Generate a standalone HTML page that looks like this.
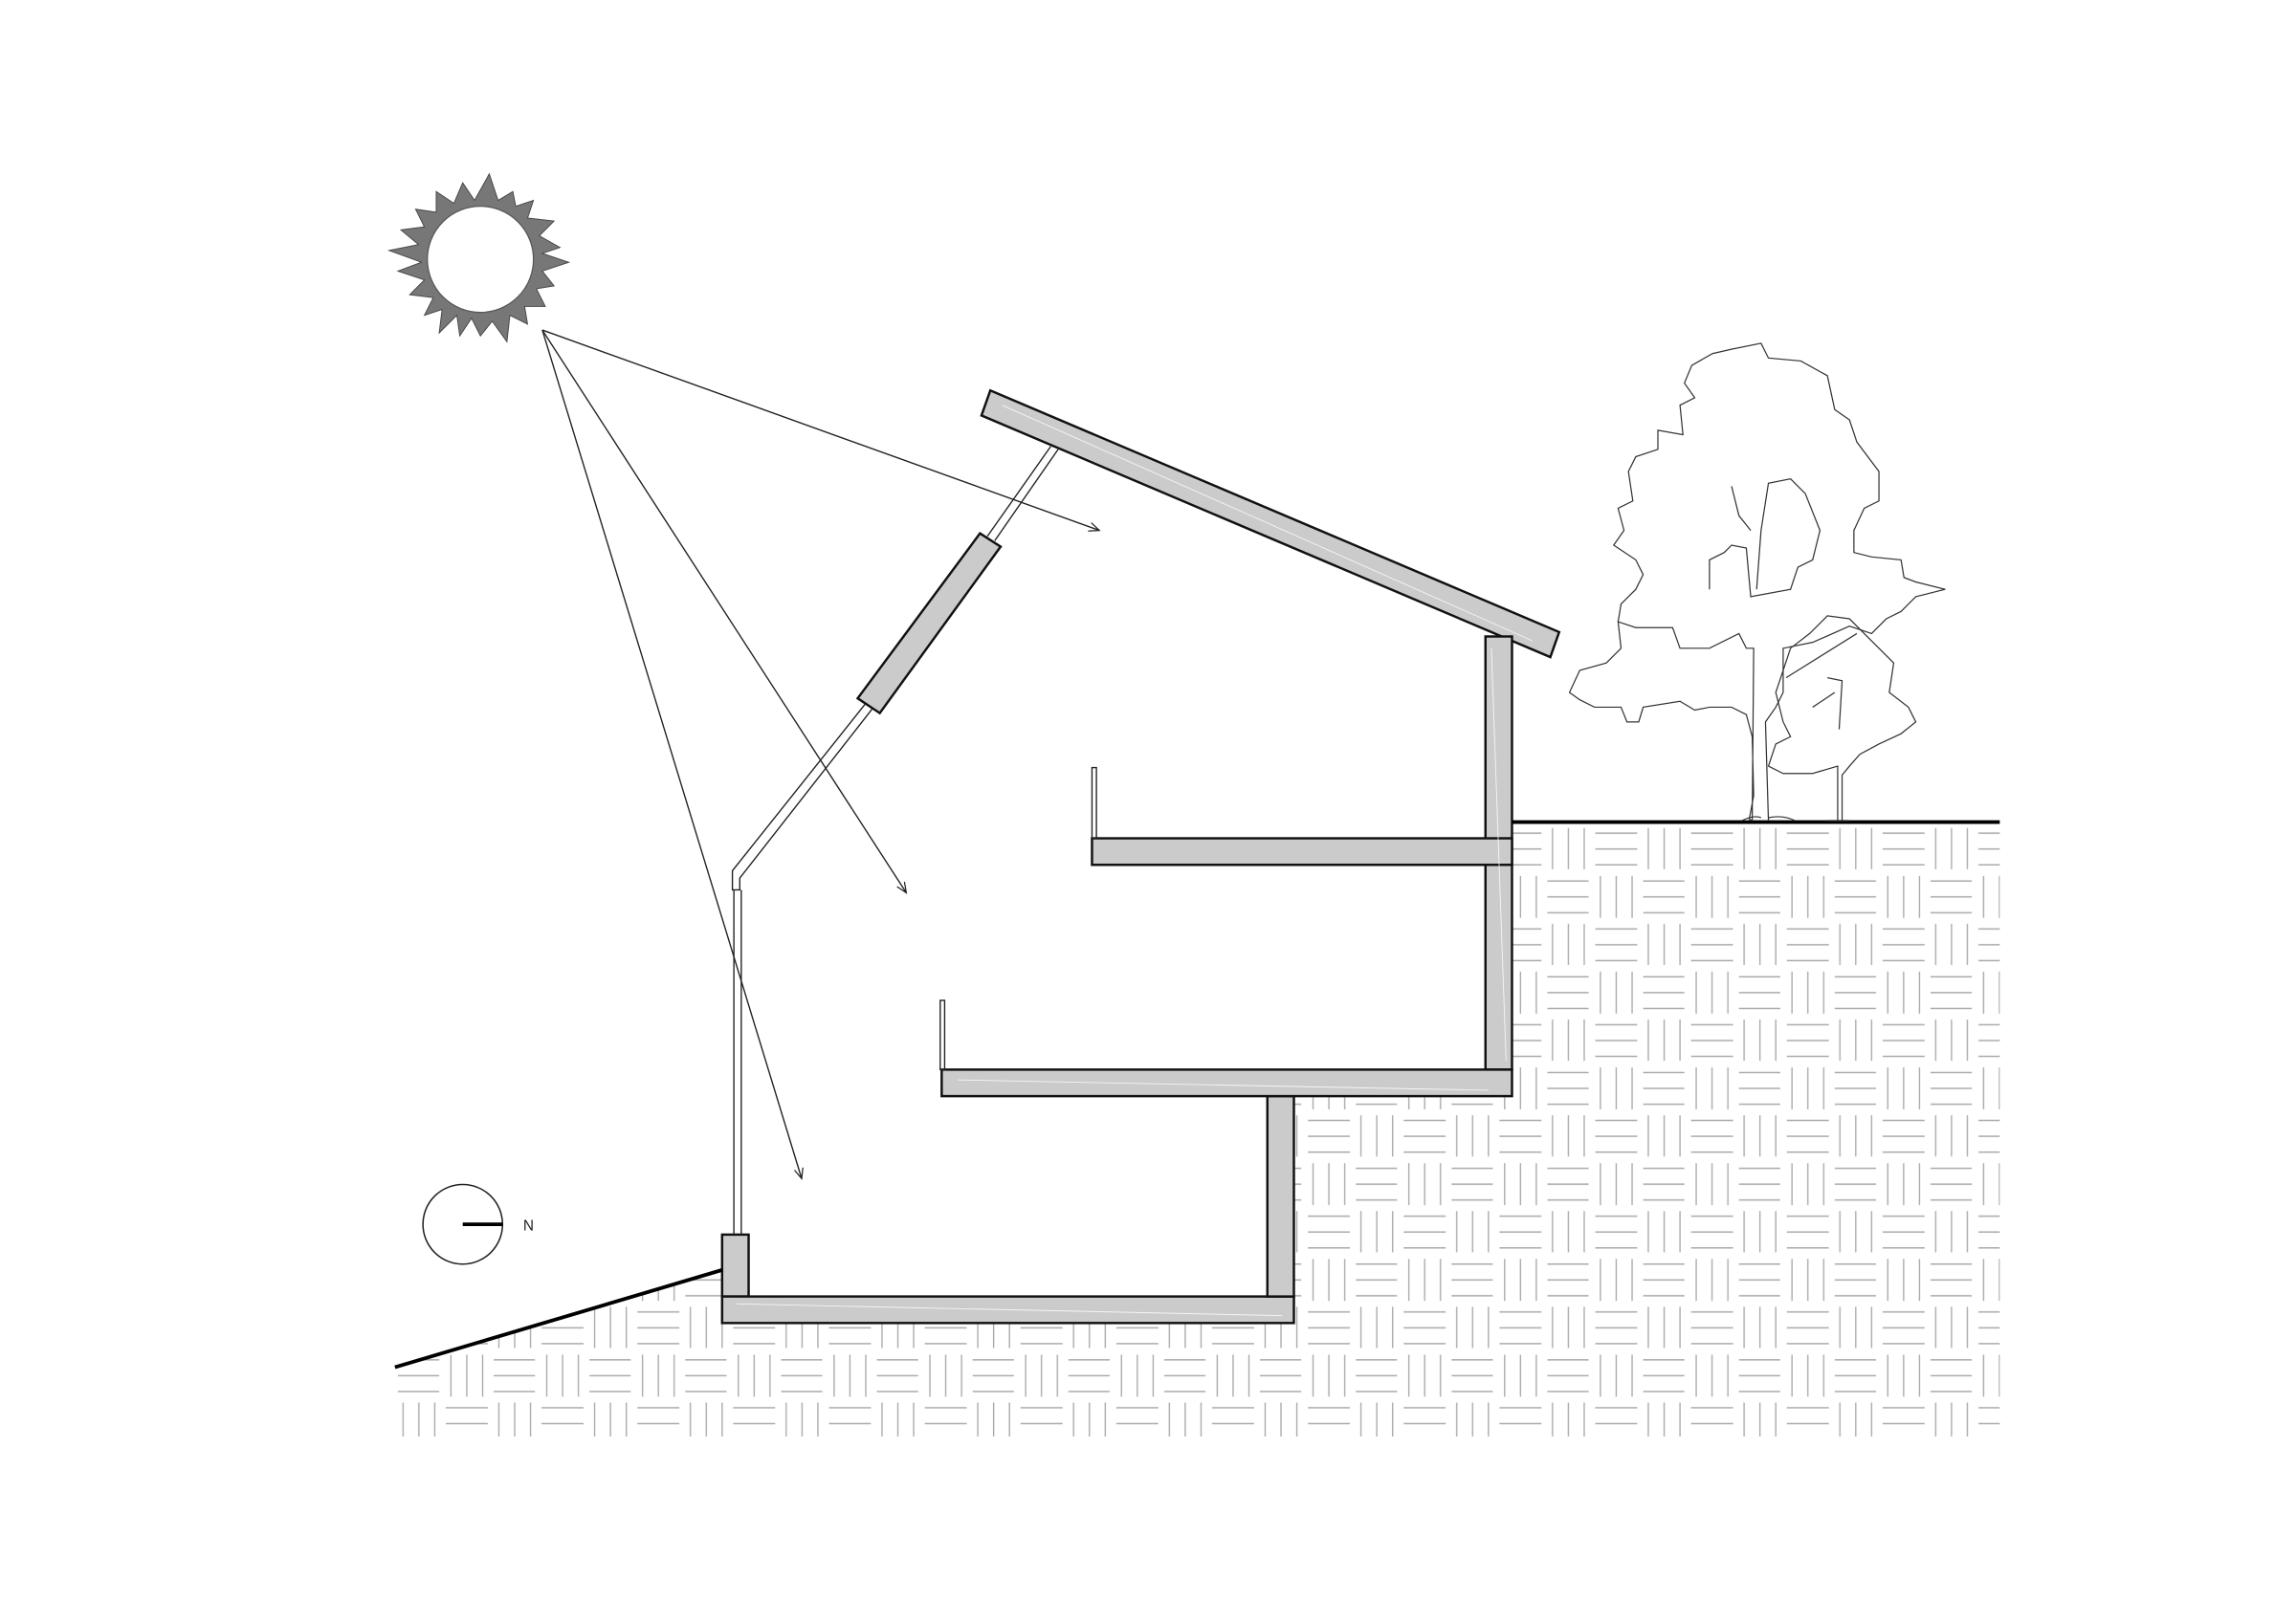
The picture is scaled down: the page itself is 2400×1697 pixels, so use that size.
<!DOCTYPE html>
<html><head><meta charset="utf-8"><style>html,body{margin:0;padding:0;background:#fff}svg{display:block}</style></head>
<body>
<svg width="2400" height="1697" viewBox="0 0 1558 1101.6" xmlns="http://www.w3.org/2000/svg">
<defs>
<pattern id="bw" patternUnits="userSpaceOnUse" x="268" y="560" width="65" height="65">
<g stroke="#aaa" stroke-width="0.9" fill="none">
<line x1="5.5" y1="2" x2="5.5" y2="30"/><line x1="16.25" y1="2" x2="16.25" y2="30"/><line x1="27" y1="2" x2="27" y2="30"/>
<line x1="34.5" y1="5.5" x2="63" y2="5.5"/><line x1="34.5" y1="16.25" x2="63" y2="16.25"/><line x1="34.5" y1="27" x2="63" y2="27"/>
<line x1="2" y1="38" x2="30" y2="38"/><line x1="2" y1="48.75" x2="30" y2="48.75"/><line x1="2" y1="59.5" x2="30" y2="59.5"/>
<line x1="38" y1="34.5" x2="38" y2="63"/><line x1="48.75" y1="34.5" x2="48.75" y2="63"/><line x1="59.5" y1="34.5" x2="59.5" y2="63"/>
</g></pattern>
<marker id="ar" markerWidth="8" markerHeight="8" refX="7" refY="4" orient="auto" markerUnits="userSpaceOnUse"><path d="M0,1 L7,4 L0,7" fill="none" stroke="#222" stroke-width="0.8"/></marker>
</defs>
<rect width="1558" height="1102" fill="#fff"/>
<polygon points="268,928 490,862 490,898 878,898 878,744 1026,744 1026,558 1357,558 1357,975 268,975" fill="url(#bw)"/>
<!-- sun -->
<g transform="translate(326,176)">
<polygon fill="#777" stroke="#444" stroke-width="0.6" points="
6,-58 12,-40 22,-46 24,-36 36,-40 32,-28 50,-26 40,-16 54,-8 42,-4 60,2 42,8 50,18 38,20 44,32 30,32 32,44 20,38 18,56 8,42 0,52 -6,40 -14,52 -16,38 -28,50 -26,34 -38,38 -32,26 -48,24 -38,14 -56,8 -40,2 -62,-6 -42,-10 -54,-20 -38,-22 -44,-34 -30,-32 -30,-46 -18,-38 -12,-52 -4,-40"/>
<circle r="36" fill="#fff" stroke="#555" stroke-width="0.8"/>
</g>
<!-- rays -->
<g stroke="#222" stroke-width="0.9" fill="none" marker-end="url(#ar)">
<line x1="368" y1="224" x2="746" y2="360"/>
<line x1="368" y1="224" x2="615" y2="606"/>
<line x1="368" y1="224" x2="544" y2="800"/>
</g>
<!-- building -->
<g fill="#cbcbcb" stroke="#111" stroke-width="1.6">
<polygon points="672,265 1058,429 1052,446 666,282"/>
<polygon points="665,362 679,371 597,484 582,474"/>
<rect x="490" y="838" width="18" height="42"/>
<rect x="490" y="880" width="388" height="18"/>
<rect x="860" y="744" width="18" height="136"/>
<rect x="1008" y="432" width="18" height="294"/>
<rect x="639" y="726" width="387" height="18"/>
<rect x="741" y="569" width="285" height="18"/>
</g>
<g stroke="#fff" stroke-width="0.6" fill="none" opacity="0.8">
<line x1="680" y1="275" x2="1040" y2="435"/><line x1="1012" y1="440" x2="1022" y2="720"/><line x1="650" y1="733" x2="1010" y2="740"/><line x1="500" y1="885" x2="870" y2="893"/>
</g>
<!-- glazing -->
<g stroke="#222" stroke-width="0.9" fill="none">
<path d="M713,303 L670,364 M718,305 L675,367"/>
<path d="M587,478 L497,591 L497,604 L502,604 L502,596 L592,481"/>
<line x1="498" y1="604" x2="498" y2="838"/><line x1="503" y1="604" x2="503" y2="838"/>
<rect x="741" y="521" width="3" height="48"/>
<rect x="638" y="679" width="3" height="47"/>
</g>
<!-- ground lines -->
<line x1="268" y1="928" x2="490" y2="862" stroke="#000" stroke-width="2.5"/>
<line x1="1026" y1="558" x2="1357" y2="558" stroke="#000" stroke-width="2.5"/>
<!-- tree -->
<g stroke="#333" stroke-width="0.8" fill="none">
<path d="M1189,557 L1190,440 L1185,440 L1180,430 L1160,440 L1140,440 L1135,426 L1110,426 L1098,422 L1100,440 L1090,450 L1072,455 L1065,470 L1072,475 L1082,480 L1100,480 L1104,490 L1112,490 L1115,480 L1140,476 L1150,482 L1160,480 L1175,480 L1185,485 L1189,500 L1190,540 L1187,556 Z"/>
<path d="M1200,557 L1198,490 L1205,480 L1210,470 L1210,440 L1230,436 L1255,425 L1270,430 L1280,420 L1290,415 L1300,405 L1320,400 L1300,395 L1292,392 L1290,380 L1270,378 L1258,375 L1258,360 L1265,345 L1275,340 L1275,320 L1260,300 L1255,285 L1245,278 L1240,255 L1222,245 L1200,243 L1195,233 L1175,237 L1162,240 L1148,248 L1143,260 L1150,270 L1140,275 L1142,295 L1125,292 L1125,305 L1110,310 L1105,320 L1108,340 L1098,345 L1102,360 L1095,370 L1110,380 L1115,390 L1110,400 L1100,410 L1098,422"/>
<path d="M1160,400 L1160,380 L1170,375 L1175,370 L1185,372 L1188,405 L1215,400 L1220,385 L1230,380 L1235,360 L1225,335 L1215,325 L1200,328 L1195,360 L1192,400"/>
<path d="M1175,330 L1180,350 L1188,360"/>
<path d="M1247,557 L1247,520 L1230,525 L1210,525 L1200,520 L1205,505 L1215,500 L1210,490 L1205,470 L1210,455 L1215,440 L1228,430 L1240,418 L1255,420 L1265,430 L1275,440 L1285,450 L1282,470 L1295,480 L1300,490 L1290,498 L1275,505 L1262,512 L1255,520 L1250,526 L1250,557"/>
<path d="M1212,460 L1260,430 M1240,460 L1250,462 L1248,495 M1230,480 L1245,470"/>
<path d="M1182,557 Q1190,553 1195,555 M1200,555 Q1210,553 1218,557 M1240,557 L1255,557"/>
</g>
<!-- compass -->
<circle cx="314" cy="831" r="27" fill="none" stroke="#222" stroke-width="1"/>
<line x1="314" y1="831" x2="341" y2="831" stroke="#000" stroke-width="2.5"/>
<text x="355" y="835" font-family="Liberation Sans, sans-serif" font-size="10" fill="#222">N</text>
</svg>
</body></html>
